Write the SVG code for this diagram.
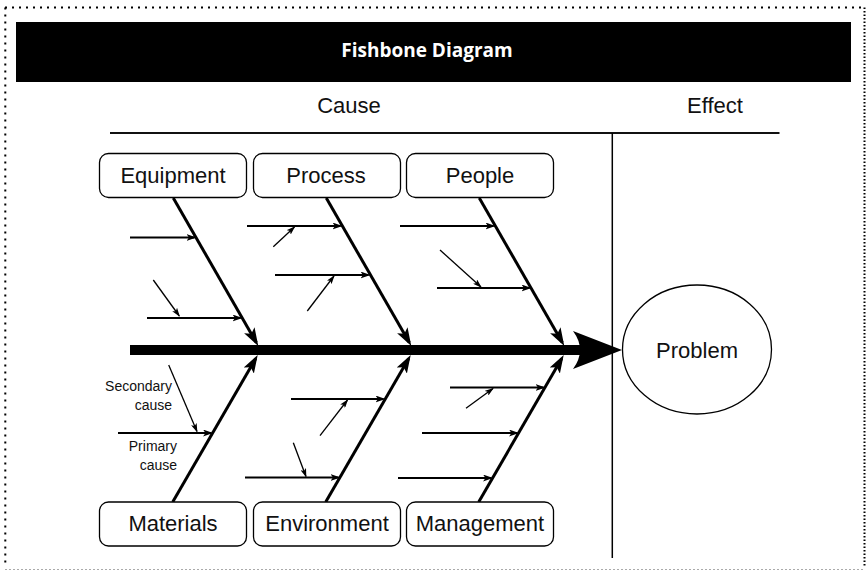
<svg xmlns="http://www.w3.org/2000/svg" width="868" height="571" viewBox="0 0 868 571">
<defs>
<style>
.box{fill:#fff;stroke:#000;stroke-width:1.3}
.lbl{font-family:"Liberation Sans",Arial,sans-serif;font-size:22px;fill:#111;text-anchor:middle}
.small{font-family:"Liberation Sans",Arial,sans-serif;font-size:14px;fill:#111;text-anchor:end}
.bone{stroke:#000;stroke-width:3;fill:none;marker-end:url(#mBig)}
.pri{stroke:#000;stroke-width:2;fill:none;marker-end:url(#mPri)}
.sec{stroke:#000;stroke-width:1.3;fill:none;marker-end:url(#mSec)}
</style>
<marker id="mBig" markerUnits="userSpaceOnUse" viewBox="0 0 18 12" refX="14" refY="6" markerWidth="18" markerHeight="12" orient="auto"><path d="M0,0 L18,6 L0,12 L4,6 Z" fill="#000"/></marker>
<marker id="mPri" markerUnits="userSpaceOnUse" viewBox="0 0 10 7" refX="8" refY="3.5" markerWidth="10" markerHeight="7" orient="auto"><path d="M0,0 L10,3.5 L0,7 L2.5,3.5 Z" fill="#000"/></marker>
<marker id="mSec" markerUnits="userSpaceOnUse" viewBox="0 0 9 6" refX="8" refY="3" markerWidth="9" markerHeight="6" orient="auto"><path d="M0,0 L9,3 L0,6 L2,3 Z" fill="#000"/></marker>
</defs>
<rect width="868" height="571" fill="#fff"/>
<!-- frame -->
<g id="frame" fill="none">
<line x1="5" y1="7.5" x2="865" y2="7.5" stroke="#000" stroke-width="2" stroke-dasharray="2 5"/>
<line x1="5.3" y1="7.5" x2="5.3" y2="566" stroke="#000" stroke-width="2" stroke-dasharray="2 5"/>
<line x1="864.5" y1="7.5" x2="864.5" y2="566" stroke="#000" stroke-width="2" stroke-dasharray="1.5 2"/>
<line x1="5" y1="569.5" x2="865" y2="569.5" stroke="#aaa" stroke-width="1" stroke-dasharray="2 2"/>
</g>
<g id="title">
<rect x="16" y="22" width="835" height="60" fill="#000"/>
<text x="427" y="57" font-family="'Open Sans','Liberation Sans',sans-serif" font-weight="bold" font-size="19" fill="#fff" text-anchor="middle">Fishbone Diagram</text>
</g>
<g id="headers">
<text class="lbl" x="349" y="113">Cause</text>
<text class="lbl" x="715" y="113">Effect</text>
<line x1="110" y1="133" x2="779.5" y2="133" stroke="#111" stroke-width="2"/>
<line x1="612.3" y1="133" x2="612.3" y2="558" stroke="#000" stroke-width="1.5"/>
</g>
<g id="connectors">
<line x1="130" y1="350" x2="585" y2="350" stroke="#000" stroke-width="10"/>
<path d="M573,331 L622,350 L573,369 Q587,350 573,331 Z" fill="#000"/>
<line class="bone" x1="173.3" y1="198" x2="256.3" y2="342.5"/>
<line class="bone" x1="326.3" y1="198" x2="409.3" y2="342.5"/>
<line class="bone" x1="479.3" y1="198" x2="562.3" y2="342.5"/>
<line class="bone" x1="172.7" y1="502" x2="255.7" y2="358.5"/>
<line class="bone" x1="325.7" y1="502" x2="408.7" y2="358.5"/>
<line class="bone" x1="478.7" y1="502" x2="561.7" y2="358.5"/>
<line class="pri" x1="130" y1="237.5" x2="194.5" y2="237.5"/>
<line class="pri" x1="147" y1="318" x2="240.5" y2="318"/>
<line class="pri" x1="247" y1="226" x2="340.5" y2="226"/>
<line class="pri" x1="275" y1="275" x2="368.5" y2="275"/>
<line class="pri" x1="400" y1="226" x2="493.5" y2="226"/>
<line class="pri" x1="437" y1="288" x2="529.5" y2="288"/>
<line class="pri" x1="118" y1="433" x2="211" y2="433"/>
<line class="pri" x1="291" y1="399" x2="383.5" y2="399"/>
<line class="pri" x1="245" y1="477.5" x2="338.5" y2="477.5"/>
<line class="pri" x1="450" y1="387.5" x2="543.5" y2="387.5"/>
<line class="pri" x1="422" y1="433" x2="517" y2="433"/>
<line class="pri" x1="398" y1="478" x2="491" y2="478"/>
<line class="sec" x1="153.3" y1="280" x2="179.3" y2="316"/>
<line class="sec" x1="273.3" y1="246.7" x2="294.5" y2="227"/>
<line class="sec" x1="307.3" y1="311" x2="334" y2="276"/>
<line class="sec" x1="440" y1="250" x2="481" y2="287"/>
<line class="sec" x1="168.7" y1="365" x2="197" y2="431.5"/>
<line class="sec" x1="320" y1="435.7" x2="347.5" y2="400"/>
<line class="sec" x1="293.3" y1="442.7" x2="306" y2="476.5"/>
<line class="sec" x1="466" y1="408.3" x2="493" y2="388.5"/>
</g>
<g id="annotations">
<text class="small" x="172" y="391">Secondary</text>
<text class="small" x="172" y="410">cause</text>
<text class="small" x="177" y="451">Primary</text>
<text class="small" x="177" y="470">cause</text>
</g>
<g id="equipment"><rect class="box" x="99.5" y="153.5" width="147" height="44" rx="9"/><text class="lbl" x="173" y="183">Equipment</text></g>
<g id="process"><rect class="box" x="253.5" y="153.5" width="147" height="44" rx="9"/><text class="lbl" x="326" y="183">Process</text></g>
<g id="people"><rect class="box" x="406.5" y="153.5" width="147" height="44" rx="9"/><text class="lbl" x="480" y="183">People</text></g>
<g id="materials"><rect class="box" x="99.5" y="502" width="147" height="44" rx="9"/><text class="lbl" x="173" y="531">Materials</text></g>
<g id="environment"><rect class="box" x="253.5" y="502" width="147" height="44" rx="9"/><text class="lbl" x="327" y="531">Environment</text></g>
<g id="management"><rect class="box" x="406.5" y="502" width="147" height="44" rx="9"/><text class="lbl" x="480" y="531">Management</text></g>
<g id="problem"><ellipse cx="697" cy="349.5" rx="74.5" ry="64.5" fill="#fff" stroke="#000" stroke-width="1.3"/><text class="lbl" x="697" y="358">Problem</text></g>
</svg>
